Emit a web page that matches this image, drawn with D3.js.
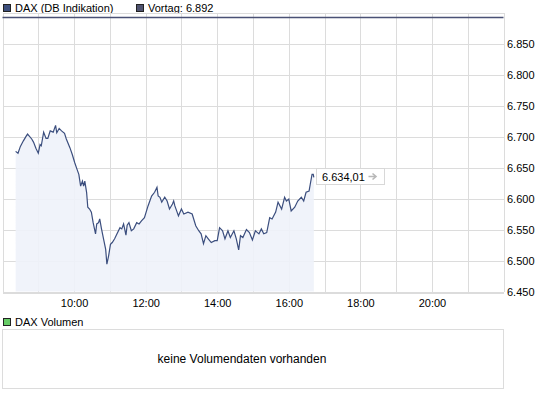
<!DOCTYPE html>
<html>
<head>
<meta charset="utf-8">
<script src="https://cdn.jsdelivr.net/npm/d3@7/dist/d3.min.js"></script>
<style>
	body { margin: 0; background: #fff; }
	svg text { font-family: "Liberation Sans", Arial, sans-serif; font-size: 11px; fill: #000; }
</style>
</head>
<body>
<div id="chart"></div>
<script>
var TIMES = ['08:22','08:26','08:30','08:35','08:40','08:42','08:49','08:52','08:56','09:00',
	'09:03','09:05','09:09','09:13','09:16','09:20','09:25','09:29','09:31','09:35',
	'09:39','09:44','09:47','09:53','09:57','10:01','10:05','10:08','10:11','10:14',
	'10:16','10:18','10:21','10:23','10:26','10:29','10:32','10:36','10:38','10:41',
	'10:43','10:46','10:50','10:53','10:55','10:58','11:01','11:04','11:08','11:12',
	'11:17','11:20','11:23','11:27','11:29','11:32','11:36','11:40','11:45','11:49',
	'11:53','11:58','12:04','12:10','12:15','12:19','12:21','12:24','12:27','12:32',
	'12:36','12:40','12:45','12:47','12:49','12:52','12:55','13:00','13:04','13:11',
	'13:18','13:24','13:29','13:33','13:37','13:41','13:45','13:50','13:56','14:00',
	'14:04','14:09','14:13','14:18','14:22','14:28','14:32','14:36','14:39','14:43',
	'14:49','14:54','14:59','15:04','15:10','15:14','15:18','15:23','15:28','15:32',
	'15:38','15:42','15:48','15:53','15:56','16:00','16:04','16:10','16:15','16:21',
	'16:25','16:29','16:34','16:36','16:39','16:41','16:42'];
var VALUES = [6676,6673,6684,6693,6701,6704,6696,6691,6681,6673,
	6687,6685,6707,6697,6697,6709,6707,6718,6706,6713,
	6709,6705,6696,6682,6671,6658,6647,6639,6620,6628,
	6620,6628,6610,6586,6583,6578,6561,6543,6559,6561,
	6567,6551,6532,6518,6494,6508,6526,6529,6535,6543,
	6553,6551,6559,6541,6557,6561,6548,6551,6561,6559,
	6564,6569,6588,6604,6610,6618,6604,6602,6594,6602,
	6596,6583,6591,6596,6588,6580,6572,6583,6575,6578,
	6575,6556,6548,6543,6527,6540,6535,6529,6532,6532,
	6553,6548,6535,6548,6537,6548,6535,6517,6540,6537,
	6550,6545,6533,6548,6543,6551,6543,6545,6569,6567,
	6578,6594,6583,6602,6596,6599,6580,6586,6596,6602,
	6596,6610,6612,6623,6639,6639,6634.01];
var VORTAG = 6892;
var Y_TICKS = [6450,6500,6550,6600,6650,6700,6750,6800,6850];
var X_LABELS = ['10:00','12:00','14:00','16:00','18:00','20:00'];
var LAST_LABEL = '6.634,01';

var GRID = '#dcdcdc';
var LINE = '#3b4e7e';
var FILL = '#eef2fa';

(function () {
	drawChart('chart');
})();

function drawChart(elementId) {
	var width = 545,
		height = 398,
		plot = { left: 2.5, right: 503.5, top: 12.5, bottom: 291.5 },
		vol = { top: 329.5, bottom: 388.5 },

		parse = d3.timeParse('%H:%M'),
		data = TIMES.map(function (t, i) {
			return { date: parse(t), value: VALUES[i] };
		}),

		svg = d3.select('#' + elementId).append('svg')
			.attr('width', width)
			.attr('height', height),

		x = d3.scaleTime()
			.domain([parse('08:00'), parse('22:00')])
			.range([plot.left, plot.right]),

		y = d3.scaleLinear()
			.domain([6450, 6900])
			.range([plot.bottom, plot.top]);

	// legend
	legendItem(3, 4, '#3d4f7d', 'DAX (DB Indikation)');
	legendItem(136, 4, '#4f5370', 'Vortag: ' + d3.format(',')(VORTAG).replace(',', '.'));

	// grid
	var grid = svg.append('g').attr('shape-rendering', 'crispEdges');
	grid.selectAll('.v')
		.data(d3.timeHour.range(parse('08:00'), parse('22:00')).concat([parse('22:00')]))
		.enter().append('line')
		.attr('x1', function (d) { return Math.round(x(d)) + 0.5; })
		.attr('x2', function (d) { return Math.round(x(d)) + 0.5; })
		.attr('y1', plot.top)
		.attr('y2', plot.bottom)
		.attr('stroke', GRID);
	grid.selectAll('.h')
		.data(Y_TICKS.concat([6900]))
		.enter().append('line')
		.attr('x1', plot.left)
		.attr('x2', plot.right)
		.attr('y1', function (d) { return Math.round(y(d)) + 0.5; })
		.attr('y2', function (d) { return Math.round(y(d)) + 0.5; })
		.attr('stroke', GRID);

	// area + line
	var area = d3.area()
		.x(function (d) { return x(d.date); })
		.y0(plot.bottom)
		.y1(function (d) { return y(d.value); });

	var line = d3.line()
		.x(function (d) { return x(d.date); })
		.y(function (d) { return y(d.value); });

	svg.append('path')
		.datum(data)
		.attr('d', area)
		.attr('fill', FILL)
		.attr('fill-opacity', 0.9);

	svg.append('line')
		.attr('x1', plot.left)
		.attr('x2', plot.right)
		.attr('y1', Math.round(y(VORTAG)) + 0.5)
		.attr('y2', Math.round(y(VORTAG)) + 0.5)
		.attr('stroke', '#4a5175')
		.attr('stroke-width', 1.3);

	svg.append('path')
		.datum(data)
		.attr('d', line)
		.attr('fill', 'none')
		.attr('stroke', LINE)
		.attr('stroke-width', 1.2);

	// bottom border
	svg.append('line')
		.attr('x1', plot.left).attr('x2', plot.right)
		.attr('y1', plot.bottom + 2).attr('y2', plot.bottom + 2)
		.attr('stroke', GRID)
		.attr('shape-rendering', 'crispEdges');

	// y axis
	var yAxis = d3.axisRight(y)
		.tickValues(Y_TICKS)
		.tickSize(0)
		.tickPadding(0)
		.tickFormat(function (d) { return d3.format(',')(d).replace(',', '.'); });

	var ya = svg.append('g')
		.attr('transform', 'translate(' + (plot.right + 3.5) + ',0)')
		.call(yAxis);
	ya.select('.domain').remove();
	ya.selectAll('text').attr('font-family', null).attr('font-size', null);

	// x axis
	var xAxis = d3.axisBottom(x)
		.tickValues(X_LABELS.map(parse))
		.tickSize(0)
		.tickPadding(0)
		.tickFormat(d3.timeFormat('%H:%M'));

	var xa = svg.append('g')
		.attr('transform', 'translate(0,' + (plot.bottom + 8) + ')')
		.call(xAxis);
	xa.select('.domain').remove();
	xa.selectAll('text').attr('font-family', null).attr('font-size', null);

	// last value label
	var last = data[data.length - 1],
		lx = Math.round(x(last.date)) + 2.5,
		ly = Math.round(y(last.value)) - 8.5;

	var lbl = svg.append('g').attr('transform', 'translate(' + lx + ',' + ly + ')');
	lbl.append('rect')
		.attr('width', 68)
		.attr('height', 16)
		.attr('fill', '#fff')
		.attr('stroke', '#d8d8d8')
		.attr('shape-rendering', 'crispEdges');
	lbl.append('text')
		.attr('x', 5.5)
		.attr('y', 12)
		.text(LAST_LABEL);
	lbl.append('path')
		.attr('d', 'M52,8H59M56,5L59.5,8L56,11')
		.attr('fill', 'none')
		.attr('stroke', '#b8b8b8')
		.attr('stroke-width', 1.6);

	// volume panel
	legendItem(3, 318, '#66cc66', 'DAX Volumen');
	svg.append('rect')
		.attr('x', plot.left)
		.attr('y', vol.top)
		.attr('width', plot.right - plot.left)
		.attr('height', vol.bottom - vol.top)
		.attr('fill', 'none')
		.attr('stroke', GRID)
		.attr('shape-rendering', 'crispEdges');
	svg.append('text')
		.attr('x', 242)
		.attr('y', 363)
		.attr('text-anchor', 'middle')
		.style('font-size', '12px')
		.text('keine Volumendaten vorhanden');

	function legendItem(px, py, color, label) {
		svg.append('rect')
			.attr('x', px + 0.5)
			.attr('y', py + 0.5)
			.attr('width', 7)
			.attr('height', 7)
			.attr('fill', color)
			.attr('stroke', '#222')
			.attr('shape-rendering', 'crispEdges');
		svg.append('text')
			.attr('x', px + 12)
			.attr('y', py + 8)
			.text(label);
	}
}
</script>
</body>
</html>
